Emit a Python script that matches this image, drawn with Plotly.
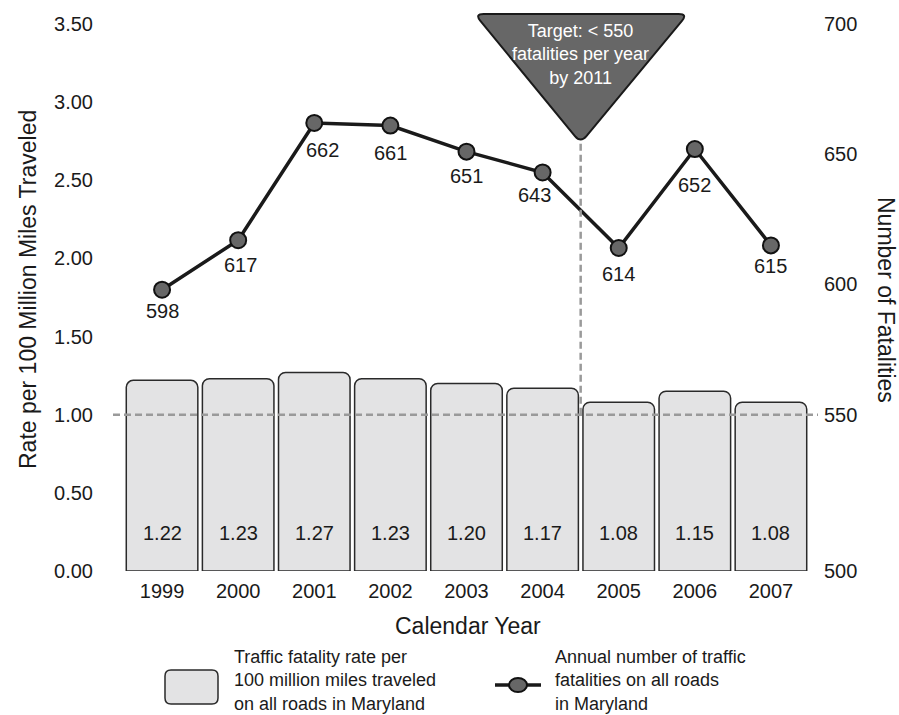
import plotly.graph_objects as go

# ---- data -----------------------------------------------------------------
years = [1999, 2000, 2001, 2002, 2003, 2004, 2005, 2006, 2007]
rates = [1.22, 1.23, 1.27, 1.23, 1.20, 1.17, 1.08, 1.15, 1.08]
fatalities = [598, 617, 662, 661, 651, 643, 614, 652, 615]
target = 550
target_year_split = 2004.5
left_ticks = [0.0, 0.5, 1.0, 1.5, 2.0, 2.5, 3.0, 3.5]
right_ticks = [500, 550, 600, 650, 700]

# per-label nudges for the fatality counts (pixels)
count_label_dx = [0, 2, 8, 0, 0, -8, 0, 0, 0]
count_label_dy = [21, 25, 27, 27, 24, 23, 26, 36, 21]

# ---- geometry ---------------------------------------------------------------
W, H = 899, 715
ML, MR, MT, MB = 124, 90, 24, 144
PW = W - ML - MR
PH = H - MT - MB
X_RANGE = [years[0] - 0.5, years[-1] + 0.5]
Y1_RANGE = [0, 3.5]
Y2_RANGE = [490, 700]   # right axis is broken below 550; floor labelled 500

FONT = "Liberation Sans, Arial, Helvetica, sans-serif"
INK = "#1a1a1a"
BAR_FILL = "#e3e3e4"
BAR_EDGE = "#2a2a2a"
MARK_FILL = "#676767"
DASH_COL = "#9a9a9a"


def px(x):
    return (x - ML) / PW


def py(y):
    return (H - MB - y) / PH


def rounded_path(pts, r):
    """Closed polygon (pixel coords) with rounded corners, as a paper-space path."""
    n = len(pts)
    out = ""
    for i in range(n):
        p, a, b = pts[i], pts[i - 1], pts[(i + 1) % n]

        def toward(q):
            dx, dy = q[0] - p[0], q[1] - p[1]
            d = (dx * dx + dy * dy) ** 0.5
            return (p[0] + r * dx / d, p[1] + r * dy / d)

        s, e = toward(a), toward(b)
        out += ("M" if i == 0 else "L") + f"{px(s[0]):.5f},{py(s[1]):.5f} "
        out += f"Q{px(p[0]):.5f},{py(p[1]):.5f} {px(e[0]):.5f},{py(e[1]):.5f} "
    return out + "Z"


def note(x, y, text, size, color=INK, xanchor="center", angle=0, align="center"):
    return dict(x=px(x), y=py(y), xref="paper", yref="paper", text=text,
                showarrow=False, xanchor=xanchor, yanchor="middle",
                textangle=angle, align=align,
                font=dict(size=size, color=color, family=FONT))


fig = go.Figure()

fig.add_trace(go.Bar(
    x=years, y=rates,
    marker=dict(color=BAR_FILL, line=dict(color=BAR_EDGE, width=1.5)),
    hoverinfo="skip", showlegend=False,
))

fig.add_trace(go.Scatter(
    x=years, y=fatalities, yaxis="y2",
    mode="lines+markers",
    line=dict(color=INK, width=3.5),
    marker=dict(size=16, color=MARK_FILL, line=dict(color="#111111", width=2)),
    hoverinfo="skip", showlegend=False,
))

annotations = []

# rate values near the foot of each bar
for yr, v in zip(years, rates):
    annotations.append(dict(
        x=yr, y=0, xref="x", yref="y", text=f"{v:.2f}", showarrow=False,
        xanchor="center", yanchor="middle", yshift=38,
        font=dict(size=20, color=INK, family=FONT),
    ))

# fatality counts under each point
for yr, v, dx, dy in zip(years, fatalities, count_label_dx, count_label_dy):
    annotations.append(dict(
        x=yr, y=v, xref="x", yref="y2", text=str(v), showarrow=False,
        xanchor="center", yanchor="middle", xshift=dx, yshift=-dy,
        font=dict(size=20, color=INK, family=FONT),
    ))

# axis titles
annotations += [
    note(468, 626, "Calendar Year", 23),
    note(28, 290, "Rate per 100 Million Miles Traveled", 23, angle=-90),
    note(886, 300, "Number of Fatalities", 23, angle=90),
]

# target callout text
split_px = ML + PW * (target_year_split - X_RANGE[0]) / (X_RANGE[1] - X_RANGE[0])
annotations.append(note(split_px, 54, "Target: &lt; 550<br>fatalities per year<br>by 2011",
                        18, color="white"))

# legend text
annotations += [
    note(232, 680, "Traffic fatality rate per<br>100 million miles traveled<br>on all roads in Maryland",
         18, xanchor="left", align="left"),
    note(553, 680, "Annual number of traffic<br>fatalities on all roads<br>in Maryland",
         18, xanchor="left", align="left"),
]

target_paper = (target - Y2_RANGE[0]) / (Y2_RANGE[1] - Y2_RANGE[0])
apex_y = 143

shapes = [
    # target level across the chart
    dict(type="line", xref="paper", yref="paper",
         x0=px(113), x1=px(818), y0=target_paper, y1=target_paper,
         line=dict(color=DASH_COL, width=2.5, dash="7px,4px"), layer="above"),
    # split marker below the callout
    dict(type="line", xref="paper", yref="paper",
         x0=px(split_px), x1=px(split_px), y0=target_paper, y1=py(apex_y),
         line=dict(color=DASH_COL, width=2.5, dash="7px,4px"), layer="above"),
    # inverted-triangle callout
    dict(type="path", xref="paper", yref="paper",
         path=rounded_path([(split_px - 106, 14), (split_px + 107, 14), (split_px, apex_y)], 9),
         fillcolor=MARK_FILL, line=dict(color=INK, width=2), layer="above"),
    # legend: bar swatch
    dict(type="path", xref="paper", yref="paper",
         path=rounded_path([(165, 670), (218, 670), (218, 704), (165, 704)], 6),
         fillcolor=BAR_FILL, line=dict(color=BAR_EDGE, width=1.5), layer="above"),
    # legend: line swatch
    dict(type="line", xref="paper", yref="paper",
         x0=px(495), x1=px(541), y0=py(685), y1=py(685),
         line=dict(color=INK, width=3.5), layer="above"),
    dict(type="circle", xref="paper", yref="paper",
         x0=px(509), x1=px(527), y0=py(692), y1=py(678),
         fillcolor=MARK_FILL, line=dict(color="#111111", width=2), layer="above"),
]

fig.update_layout(
    width=W, height=H,
    margin=dict(l=ML, r=MR, t=MT, b=MB, pad=0),
    paper_bgcolor="white", plot_bgcolor="white",
    font=dict(family=FONT, color=INK),
    bargap=0.06, barcornerradius=7,
    showlegend=False,
    xaxis=dict(range=X_RANGE, tickvals=years, ticktext=[str(y) for y in years],
               showgrid=False, zeroline=False, showline=False, ticks="",
               tickfont=dict(size=20, color=INK), ticklabelstandoff=6),
    yaxis=dict(range=Y1_RANGE, tickvals=left_ticks,
               ticktext=[f"{v:.2f}" for v in left_ticks],
               showgrid=False, zeroline=False, showline=False, ticks="",
               tickfont=dict(size=20, color=INK), ticklabelstandoff=30),
    yaxis2=dict(range=Y2_RANGE, overlaying="y", side="right",
                tickvals=[Y2_RANGE[0]] + right_ticks[1:],
                ticktext=[str(v) for v in right_ticks],
                showgrid=False, zeroline=False, showline=False, ticks="",
                tickfont=dict(size=20, color=INK), ticklabelstandoff=14),
    annotations=annotations,
    shapes=shapes,
)

fig.write_html("out.html")
